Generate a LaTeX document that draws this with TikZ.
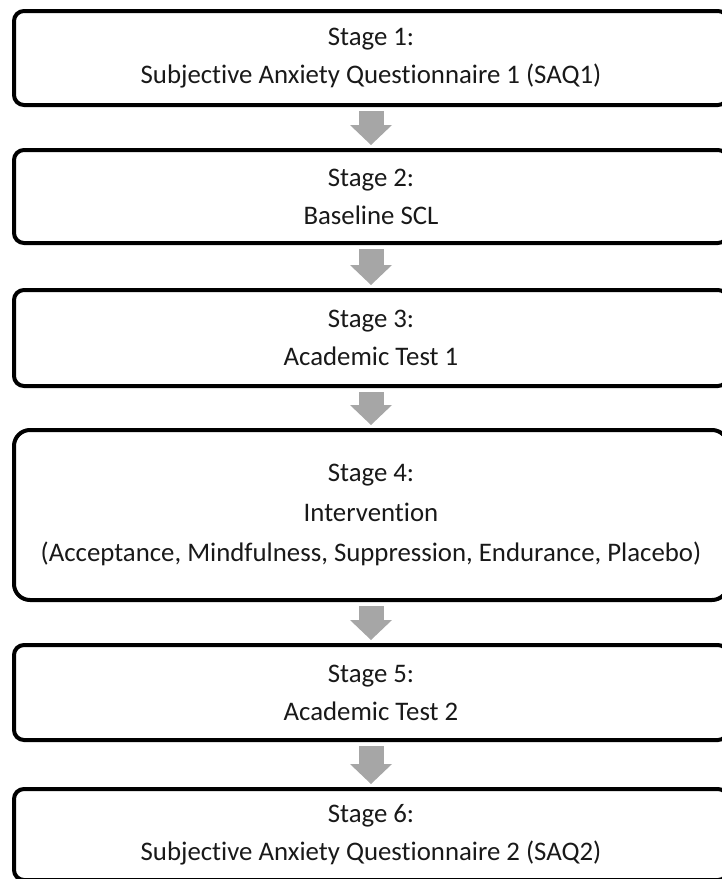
\documentclass[tikz,border=0pt]{standalone}
\usepackage{fontspec}
\setmainfont[Ligatures=NoCommon]{Carlito}
\usetikzlibrary{arrows.meta}
\definecolor{arrowgray}{RGB}{166,166,166}
\definecolor{textblack}{RGB}{25,25,25}

\begin{document}
\begin{tikzpicture}[x=1pt, y=-1pt, line width=4pt,
  stagebox/.style={draw, rounded corners=10pt, minimum width=714pt, inner sep=0pt,
    align=center, text=textblack, font=\fontsize{26.8}{38}\selectfont},
  stagearrow/.style={arrowgray, line width=25pt,
    -{Triangle[length=20pt, width=42pt, line width=0pt]},
    shorten <=4pt, shorten >=3pt}]

% Bildausschnitt (rechter Rand der Kaesten ist abgeschnitten)
\useasboundingbox (0,0) rectangle (722,879);
\clip (0,0) rectangle (722,879);

% Stufen des Ablaufs
\node[stagebox, minimum height=94pt] (stage1) at (371,58)
  {Stage 1:\\Subjective Anxiety Questionnaire 1 (SAQ1)};
\node[stagebox, minimum height=93pt] (stage2) at (371,196.5)
  {Stage 2:\\Baseline SCL};
\node[stagebox, minimum height=96pt] (stage3) at (371,338)
  {Stage 3:\\Academic Test 1};
\node[stagebox, minimum height=170pt, rounded corners=16pt,
  font=\fontsize{26.8}{40}\selectfont] (stage4) at (371,515)
  {Stage 4:\\Intervention\\(Acceptance, Mindfulness, Suppression, Endurance, Placebo)};
\node[stagebox, minimum height=95pt] (stage5) at (371,692.5)
  {Stage 5:\\Academic Test 2};
\node[stagebox, minimum height=91pt] (stage6) at (371,834.5)
  {Stage 6:\\Subjective Anxiety Questionnaire 2 (SAQ2)};

% Pfeile zwischen den Stufen
\draw[stagearrow] (stage1) -- (stage2);
\draw[stagearrow] (stage2) -- (stage3);
\draw[stagearrow] (stage3) -- (stage4);
\draw[stagearrow] (stage4) -- (stage5);
\draw[stagearrow] (stage5) -- (stage6);

\end{tikzpicture}
\end{document}
